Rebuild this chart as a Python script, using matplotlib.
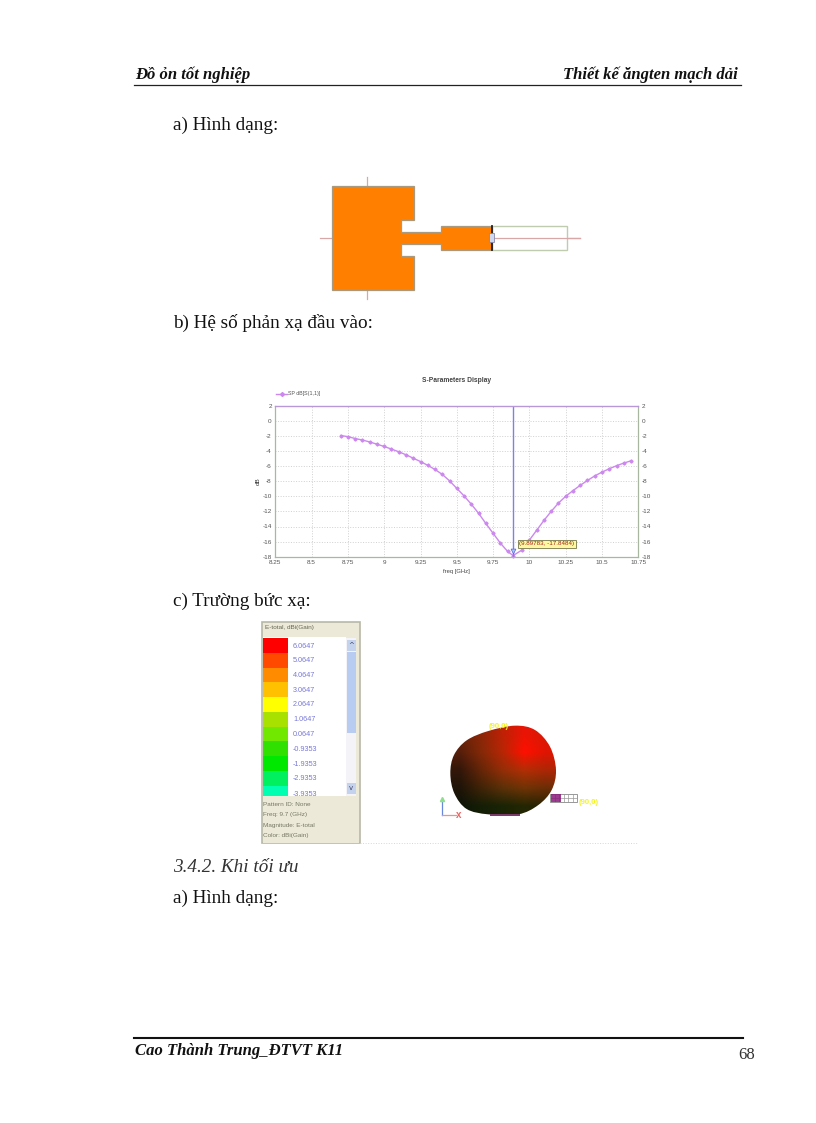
import numpy as np
import matplotlib
matplotlib.use("Agg")
import matplotlib.pyplot as plt
from matplotlib.patches import Polygon, Rectangle, PathPatch
from matplotlib.path import Path

plt.rcParams["axes.unicode_minus"] = False

W, H = 816, 1123
SERIF = "Liberation Serif"
SANS = "Liberation Sans"

freq = [8.70, 8.75, 8.80, 8.85, 8.90, 8.95, 9.00, 9.05, 9.10, 9.15, 9.20, 9.25, 9.30, 9.35,
        9.40, 9.45, 9.50, 9.55, 9.60, 9.65, 9.70, 9.75, 9.80, 9.85, 9.8878, 9.95, 10.00,
        10.05, 10.10, 10.15, 10.20, 10.25, 10.30, 10.35, 10.40, 10.45, 10.50, 10.55, 10.60,
        10.65, 10.70]
s11_db = [-1.95, -2.10, -2.35, -2.55, -2.80, -3.10, -3.40, -3.75, -4.10, -4.50, -4.95, -5.40,
          -5.90, -6.45, -7.10, -7.95, -8.95, -9.95, -11.05, -12.25, -13.60, -14.90, -16.20,
          -17.30, -17.85, -17.10, -15.80, -14.50, -13.20, -12.00, -10.90, -10.00, -9.25,
          -8.55, -7.90, -7.30, -6.80, -6.35, -5.95, -5.60, -5.30]
x_ticks = [8.25, 8.5, 8.75, 9, 9.25, 9.5, 9.75, 10, 10.25, 10.5, 10.75]
x_tick_labels = ["8.25", "8.5", "8.75", "9", "9.25", "9.5", "9.75", "10", "10.25", "10.5", "10.75"]
y_ticks = [2, 0, -2, -4, -6, -8, -10, -12, -14, -16, -18]
marker_freq = 9.8878
marker_label = "(9.89783, -17.8484)"

legend_values = ["6.0647", "5.0647", "4.0647", "3.0647", "2.0647", "1.0647", "0.0647",
                 "-0.9353", "-1.9353", "-2.9353", "-3.9353"]
legend_colors = ["#ff0000", "#ff4a00", "#ff8c00", "#ffc000", "#ffff00", "#a8e000", "#70e800",
                 "#30e000", "#00e800", "#00f060", "#00ffb0"]
legend_info = ["Pattern ID: None", "Freq: 9.7 (GHz)", "Magnitude: E-total", "Color: dBi(Gain)"]

fig = plt.figure(figsize=(W / 100, H / 100), dpi=100, facecolor="white")
page = fig.add_axes([0, 0, 1, 1])
page.set_xlim(0, W)
page.set_ylim(H, 0)
page.axis("off")


def txt(x, y, s, size=13.75, style="normal", weight="normal", color="#111111", ha="left", family=SERIF, z=3):
    page.text(x, y, s, fontsize=size, fontstyle=style, fontweight=weight, color=color,
              ha=ha, va="center", family=family, zorder=z)


# page furniture
txt(135, 75, "Đồ ỏn tốt nghiệp", size=12, style="italic", weight="bold")
txt(738, 75, "Thiết kế ăngten mạch dải", size=12, style="italic", weight="bold", ha="right")
page.plot([134, 741], [84.5, 84.5], color="#222222", lw=0.9)
page.plot([134, 743], [1037.5, 1037.5], color="#111111", lw=1.5)
txt(135, 1051, "Cao Thành Trung_ĐTVT K11", size=12, style="italic", weight="bold")
txt(755, 1055, "68", size=12, ha="right", color="#333333")
txt(173, 125, "a) Hình dạng:")
txt(173, 323, "b) Hệ số phản xạ đầu vào:")
txt(173, 601, "c) Trường bức xạ:")
txt(173, 867, "3.4.2. Khi tối ưu", style="italic", color="#333333")
txt(173, 898, "a) Hình dạng:")


# antenna layout (zoomed-crop coordinates converted to page pixels)
def z1(x, y):
    return (310 + x / 3, 170 + y / 3)


pink = "#d8a8a8"
for a, b in [((30, 204), (810, 204)), ((170, 22), (170, 48)), ((170, 360), (170, 388))]:
    page.plot(*zip(z1(*a), z1(*b)), color=pink, lw=0.9, zorder=1)
shape = [(65, 48), (313, 48), (313, 150), (272, 150), (272, 187), (393, 187), (393, 168), (545, 168),
         (545, 240), (393, 240), (393, 222), (272, 222), (272, 258), (313, 258), (313, 360), (65, 360)]
page.add_patch(Polygon([z1(*p) for p in shape], closed=True, fc="#ff8000", ec="#a89a80", lw=0.9, zorder=3))
page.plot(*zip(z1(545, 168), z1(545, 240)), color="#222222", lw=1.3, zorder=4)
px, py = z1(545, 168)
page.add_patch(Rectangle((px, py), 227 / 3, 72 / 3, fc="white", ec="#c0ccb0", lw=1.0, zorder=2))
page.plot(*zip(z1(545, 204), z1(810, 204)), color=pink, lw=0.9, zorder=2.5)
px, py = z1(537, 190)
page.add_patch(Rectangle((px, py), 5, 9, fc="#d0d8f0", ec="#8888aa", lw=0.6, zorder=5))

# S-parameter chart
L, R, T, B = 275.3, 638.3, 405.7, 556.7
ax = fig.add_axes([L / W, 1 - B / H, (R - L) / W, (B - T) / H])
ax.set_xlim(8.25, 10.75)
ax.set_ylim(-18, 2)
ax.set_xticks(x_ticks, x_tick_labels)
ax.set_yticks(y_ticks)
ax.grid(True, color="#d0d0d0", ls=":", lw=0.7)
ax.tick_params(length=0, labelsize=4.6, labelcolor="#555555", pad=2.5,
               right=True, labelright=True)
for lab in ax.get_xticklabels() + ax.get_yticklabels():
    lab.set_family(SANS)
for sp in ("left", "bottom", "right"):
    ax.spines[sp].set_color("#a8b8a0")
    ax.spines[sp].set_linewidth(0.9)
ax.spines["top"].set_color("#b898d8")
ax.spines["top"].set_linewidth(1.0)
ax.plot(freq, s11_db, color="#cc88ee", lw=1.0, marker="D", ms=1.6, mfc="#cc88ee", mec="#cc88ee", clip_on=False)
ax.axvline(marker_freq, color="#8080e8", lw=1.0)
ax.plot([marker_freq], [-17.3], marker="v", ms=3.5, mfc="#a0c8ff", mec="#6060d0", mew=0.5)
ax.text(9.93, -16.3, marker_label, fontsize=4.5, color="#a02020", family=SANS, ha="left", va="center",
        bbox=dict(boxstyle="square,pad=0.25", fc="#fff8a0", ec="#88885a", lw=0.7), zorder=6)
ax.set_xlabel("freq [GHz]", fontsize=4.2, family=SANS, color="#444444", labelpad=2.5)
ax.set_ylabel("dB", fontsize=4.6, family=SANS, color="#333333", labelpad=1)
txt(457, 381, "S-Parameters Display", size=4.8, weight="bold", color="#444444", ha="center", family=SANS)
page.plot([276, 287], [394, 394], color="#cc88ee", lw=1.0, zorder=5)
page.plot([282], [394], color="#cc88ee", marker="D", ms=2.0)
txt(288, 394, "SP dB[S(1,1)]", size=3.8, color="#555555", family=SANS)

# radiation-pattern legend panel
page.add_patch(Rectangle((262, 622), 98, 221, fc="#ece9d8", ec="#b8b8a8", lw=1.2, zorder=1))
txt(265, 627, "E-total, dBi(Gain)", size=4.6, color="#666655", family=SANS)
page.add_patch(Rectangle((263, 637), 83, 159, fc="white", ec="none", zorder=1.5))
row_h = 14.75
for i, (val, col) in enumerate(zip(legend_values, legend_colors)):
    top = 638 + i * row_h
    h = min(row_h, 795.5 - top)
    page.add_patch(Rectangle((263, top), 24.5, h, fc=col, ec="none", zorder=2))
    txt(293, top + 8 + (1.5 if i == 10 else 0), val, size=5.2, color="#7878d8", family=SANS)
page.add_patch(Rectangle((346, 638), 10, 158, fc="#f4f4f8", ec="none", zorder=2))
page.add_patch(Rectangle((346.5, 652), 9, 81, fc="#b8cbf0", ec="none", zorder=3))
page.add_patch(Rectangle((346.5, 640), 9, 11, fc="#c5d2ee", ec="none", zorder=3))
page.add_patch(Rectangle((346.5, 783), 9, 11, fc="#c5d2ee", ec="none", zorder=3))
page.text(351, 645, "^", fontsize=5, ha="center", va="center", color="#444466", zorder=4)
page.text(351, 788, "v", fontsize=5, ha="center", va="center", color="#444466", zorder=4)
page.add_patch(Rectangle((263, 796), 96, 46.5, fc="#ece9d8", ec="none", zorder=5))
for i, s in enumerate(legend_info):
    txt(263, 804 + i * 10.6, s, size=4.6, color="#777766", family=SANS, z=6)
page.plot([360, 637], [842.7, 842.7], color="#d8d8c8", lw=0.7, ls=":")


# 3-D pattern body
def z2(x, y):
    return (255 + x / 3, 615 + y / 3)


outline = np.array([z2(*p) for p in [
    (700, 348), (780, 332), (840, 345), (885, 395), (903, 465), (890, 525), (850, 570), (790, 598),
    (700, 598), (635, 582), (598, 535), (586, 475), (597, 420), (635, 376)]])
n = len(outline)
verts, codes = [outline[0]], [Path.MOVETO]
for i in range(n):
    p0, p1, p2, p3 = outline[i - 1], outline[i], outline[(i + 1) % n], outline[(i + 2) % n]
    verts += [p1 + (p2 - p0) / 6, p2 - (p3 - p1) / 6, p2]
    codes += [Path.CURVE4] * 3
blob_path = Path(np.array(verts), codes)
shade = np.array([
    [[0.42, 0.14, 0.04], [0.55, 0.15, 0.03], [0.75, 0.13, 0.02], [0.92, 0.08, 0.02], [0.85, 0.10, 0.02]],
    [[0.34, 0.12, 0.04], [0.52, 0.16, 0.03], [0.72, 0.15, 0.02], [1.00, 0.06, 0.00], [0.88, 0.08, 0.01]],
    [[0.20, 0.09, 0.04], [0.40, 0.15, 0.03], [0.58, 0.18, 0.03], [0.70, 0.18, 0.02], [0.68, 0.15, 0.02]],
    [[0.12, 0.08, 0.03], [0.25, 0.14, 0.03], [0.36, 0.19, 0.03], [0.44, 0.20, 0.02], [0.42, 0.18, 0.02]],
    [[0.05, 0.08, 0.03], [0.08, 0.12, 0.02], [0.10, 0.14, 0.02], [0.14, 0.15, 0.01], [0.16, 0.13, 0.01]],
])
img = page.imshow(shade, extent=(450, 556, 815, 725), interpolation="bilinear", aspect="auto", zorder=3)
img.set_clip_path(PathPatch(blob_path, transform=page.transData))
page.set_xlim(0, W)
page.set_ylim(H, 0)

# feed grid next to the pattern
gx0, gy0 = z2(885, 538)
page.add_patch(Rectangle((gx0, gy0), 27, 8, fc="white", ec="#888888", lw=0.6, zorder=4))
for k in range(1, 6):
    page.plot([gx0 + k * 4.5] * 2, [gy0, gy0 + 8], color="#999999", lw=0.5, zorder=5)
page.plot([gx0, gx0 + 27], [gy0 + 4] * 2, color="#999999", lw=0.5, zorder=5)
page.add_patch(Rectangle((gx0 + 1, gy0), 10, 8, fc="#8a1a7a", ec="none", alpha=0.85, zorder=5))
bx0, by0 = z2(705, 596)
page.add_patch(Rectangle((bx0, by0), 30, 2.5, fc="#7a3a6a", ec="none", zorder=4))
txt(499, 727, "(90,0)", size=5.5, color="#f4f420", ha="center", family=SANS, weight="bold", z=6)
txt(589, 803, "(90,0)", size=5.5, color="#f4f420", ha="center", family=SANS, weight="bold", z=6)

# axis triad
ox, oy = z2(562, 600)
page.plot([ox, ox], [oy, oy - 16], color="#6688dd", lw=0.9, zorder=4)
page.plot([ox, ox + 14], [oy, oy], color="#ee9090", lw=0.9, zorder=4)
page.plot([ox], [oy - 16], marker="^", ms=3, color="#90dd90", zorder=4)
txt(ox + 16, oy, "x", size=7, color="#ee6060", ha="center", family=SANS, weight="bold")

fig.savefig("out.png", dpi=100, facecolor="white")
